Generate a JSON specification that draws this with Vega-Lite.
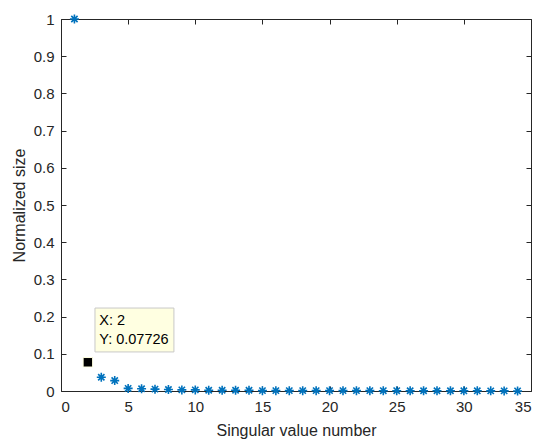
{
  "$schema": "https://vega.github.io/schema/vega-lite/v6.json",
  "width": 470,
  "height": 372,
  "autosize": {"type": "none"},
  "padding": {"left": 61, "top": 19, "right": 19, "bottom": 51},
  "background": "white",
  "config": {
    "view": {"stroke": null},
    "font": "Liberation Sans",
    "axis": {
      "domainColor": "#262626",
      "tickColor": "#262626",
      "labelColor": "#262626",
      "titleColor": "#262626",
      "labelFontSize": 15,
      "titleFontSize": 16,
      "titleFontWeight": "normal",
      "grid": false,
      "tickSize": -5,
      "domainWidth": 1,
      "tickWidth": 1
    }
  },
  "datasets": {
    "sv": [
      {"n": 1, "v": 1.0},
      {"n": 3, "v": 0.037},
      {"n": 4, "v": 0.028},
      {"n": 5, "v": 0.007},
      {"n": 6, "v": 0.006},
      {"n": 7, "v": 0.005},
      {"n": 8, "v": 0.004},
      {"n": 9, "v": 0.003},
      {"n": 10, "v": 0.003},
      {"n": 11, "v": 0.002},
      {"n": 12, "v": 0.002},
      {"n": 13, "v": 0.002},
      {"n": 14, "v": 0.002},
      {"n": 15, "v": 0.001},
      {"n": 16, "v": 0.001},
      {"n": 17, "v": 0.001},
      {"n": 18, "v": 0.001},
      {"n": 19, "v": 0.001},
      {"n": 20, "v": 0.001},
      {"n": 21, "v": 0.001},
      {"n": 22, "v": 0.001},
      {"n": 23, "v": 0.001},
      {"n": 24, "v": 0.0008},
      {"n": 25, "v": 0.0008},
      {"n": 26, "v": 0.0007},
      {"n": 27, "v": 0.0007},
      {"n": 28, "v": 0.0006},
      {"n": 29, "v": 0.0006},
      {"n": 30, "v": 0.0005},
      {"n": 31, "v": 0.0005},
      {"n": 32, "v": 0.0004},
      {"n": 33, "v": 0.0003},
      {"n": 34, "v": 0.0002}
    ],
    "tip": [{"n": 2, "v": 0.07726}],
    "box": [{"x1": 2.53, "x2": 8.41, "y1": 0.105, "y2": 0.223}],
    "tiptext": [
      {"x": 2.85, "y": 0.188, "t": "X: 2"},
      {"x": 2.85, "y": 0.136, "t": "Y: 0.07726"}
    ]
  },
  "layer": [
    {
      "data": {"name": "sv"},
      "mark": {
        "type": "point",
        "shape": "M0,-1L0,1M-1,0L1,0M-0.7,-0.7L0.7,0.7M-0.7,0.7L0.7,-0.7",
        "filled": false,
        "size": 81,
        "strokeWidth": 1.6,
        "color": "#0072BD",
        "opacity": 1
      },
      "encoding": {
        "x": {
          "field": "n",
          "type": "quantitative",
          "scale": {"domain": [0, 35], "nice": false, "zero": false},
          "axis": {"values": [0, 5, 10, 15, 20, 25, 30, 35], "title": "Singular value number", "labelPadding": 13, "titlePadding": 8, "orient": "bottom", "format": "~g"}
        },
        "y": {
          "field": "v",
          "type": "quantitative",
          "scale": {"domain": [0, 1], "nice": false},
          "axis": {"values": [0, 0.1, 0.2, 0.3, 0.4, 0.5, 0.6, 0.7, 0.8, 0.9, 1], "title": "Normalized size", "labelPadding": 12, "titlePadding": 6, "orient": "left", "format": "~g"}
        }
      }
    },
    {
      "data": {"name": "tip"},
      "mark": {"type": "square", "size": 90, "color": "black", "opacity": 1, "stroke": "#FFFFE1", "strokeWidth": 1},
      "encoding": {
        "x": {"field": "n", "type": "quantitative", "axis": {"orient": "top", "values": [0, 5, 10, 15, 20, 25, 30, 35], "labels": false, "title": null}},
        "y": {"field": "v", "type": "quantitative", "axis": {"orient": "right", "values": [0, 0.1, 0.2, 0.3, 0.4, 0.5, 0.6, 0.7, 0.8, 0.9, 1], "labels": false, "title": null}}
      }
    },
    {
      "data": {"name": "box"},
      "mark": {"type": "rect", "fill": "#FFFFE1", "stroke": "#C8C8C8", "strokeWidth": 1},
      "encoding": {
        "x": {"field": "x1", "type": "quantitative", "axis": null},
        "x2": {"field": "x2"},
        "y": {"field": "y1", "type": "quantitative", "axis": null},
        "y2": {"field": "y2"}
      }
    },
    {
      "data": {"name": "tiptext"},
      "mark": {"type": "text", "align": "left", "baseline": "middle", "fontSize": 14.5, "color": "black"},
      "encoding": {
        "x": {"field": "x", "type": "quantitative", "axis": null},
        "y": {"field": "y", "type": "quantitative", "axis": null},
        "text": {"field": "t"}
      }
    }
  ],
  "resolve": {"axis": {"x": "independent", "y": "independent"}}
}
